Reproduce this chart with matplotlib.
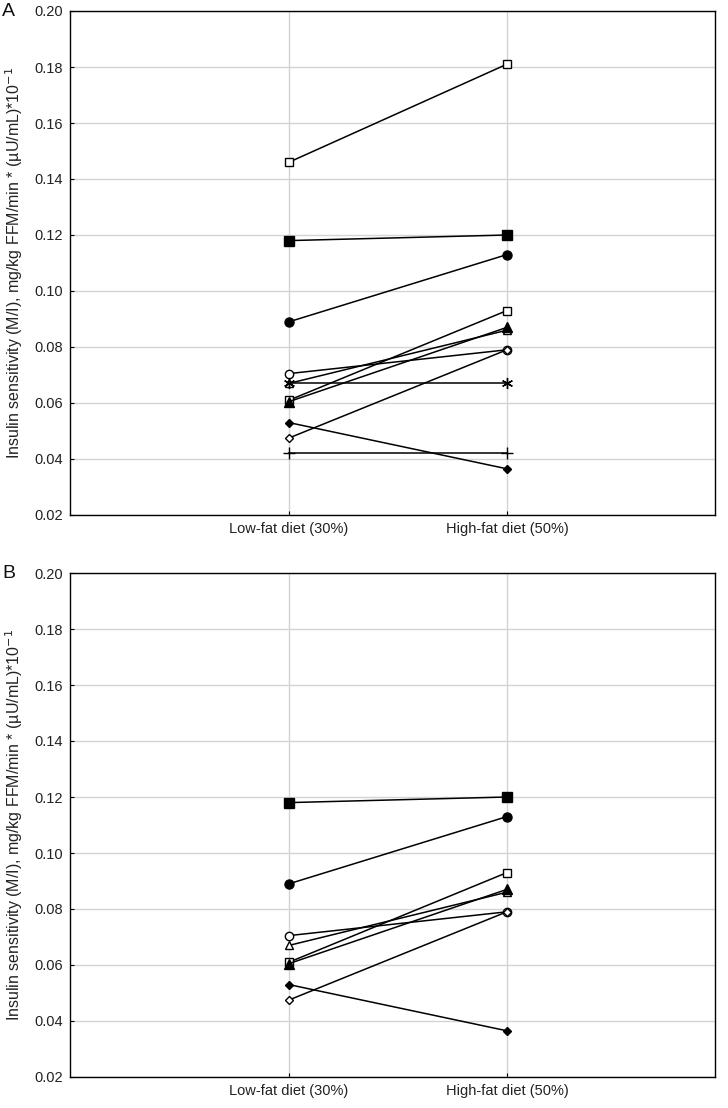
import matplotlib
matplotlib.use("Agg")
import matplotlib.pyplot as plt

plt.rcParams["font.family"] = ["Liberation Sans", "DejaVu Sans"]

categories = ["Low-fat diet (30%)", "High-fat diet (50%)"]
y_ticks = [0.02, 0.04, 0.06, 0.08, 0.10, 0.12, 0.14, 0.16, 0.18, 0.20]

# one entry per subject: (low-fat, high-fat)
low_fat = [0.146, 0.118, 0.089, 0.0705, 0.067, 0.067, 0.061, 0.0605, 0.053, 0.0475, 0.042]
high_fat = [0.181, 0.120, 0.113, 0.079, 0.086, 0.067, 0.093, 0.087, 0.0365, 0.079, 0.042]
# marker style per subject: (marker, filled, size)
markers = [
    ("s", False, 6), ("s", True, 6.5), ("o", True, 6.5), ("o", False, 6),
    ("^", False, 6), ((6, 2, 0), True, 8), ("s", False, 6), ("^", True, 6.5),
    ("D", True, 4.5), ("D", False, 4.5), ("+", True, 8),
]
# subjects shown in panel B
panel_b = [1, 2, 3, 4, 6, 7, 8, 9]

ylabel = "Insulin sensitivity (M/I), mg/kg FFM/min * (µU/mL)*10$^{-1}$"

W, H = 728, 1108
fig = plt.figure(figsize=(W / 100, H / 100), dpi=100)


def axes_px(left, top, right, bottom):
    return fig.add_axes([left / W, 1 - bottom / H, (right - left) / W, (bottom - top) / H])


def draw_panel(ax, subjects, letter):
    for i in subjects:
        m, filled, ms = markers[i]
        ax.plot([0, 1], [low_fat[i], high_fat[i]], color="black", lw=1.1,
                marker=m, ms=ms, mec="black", mew=1.0,
                mfc="black" if filled else "white", zorder=3)
    ax.set_xlim(-1.005, 1.955)
    ax.set_ylim(0.02, 0.20)
    ax.set_yticks(y_ticks)
    ax.set_yticklabels([f"{v:.2f}" for v in y_ticks])
    ax.set_xticks([0, 1])
    ax.set_xticklabels(categories)
    ax.grid(True, color="#d4d4d4", lw=1.0, zorder=0)
    ax.set_axisbelow(True)
    ax.tick_params(axis="both", direction="in", length=3, labelsize=10.5,
                   colors="black", labelcolor="#222222", pad=5)
    for s in ax.spines.values():
        s.set_color("black")
        s.set_linewidth(1.0)
    ax.set_ylabel(ylabel, fontsize=11.5, color="#222222")
    ax.yaxis.set_label_coords(-0.07, 0.5)
    ax.text(-0.105, 1.0, letter, transform=ax.transAxes, fontsize=14,
            ha="left", va="center", color="#111111")


ax_a = axes_px(70, 11, 715, 515)
draw_panel(ax_a, range(len(low_fat)), "A")
ax_b = axes_px(70, 573, 715, 1077)
draw_panel(ax_b, panel_b, "B")

fig.savefig("out.png", dpi=100)
